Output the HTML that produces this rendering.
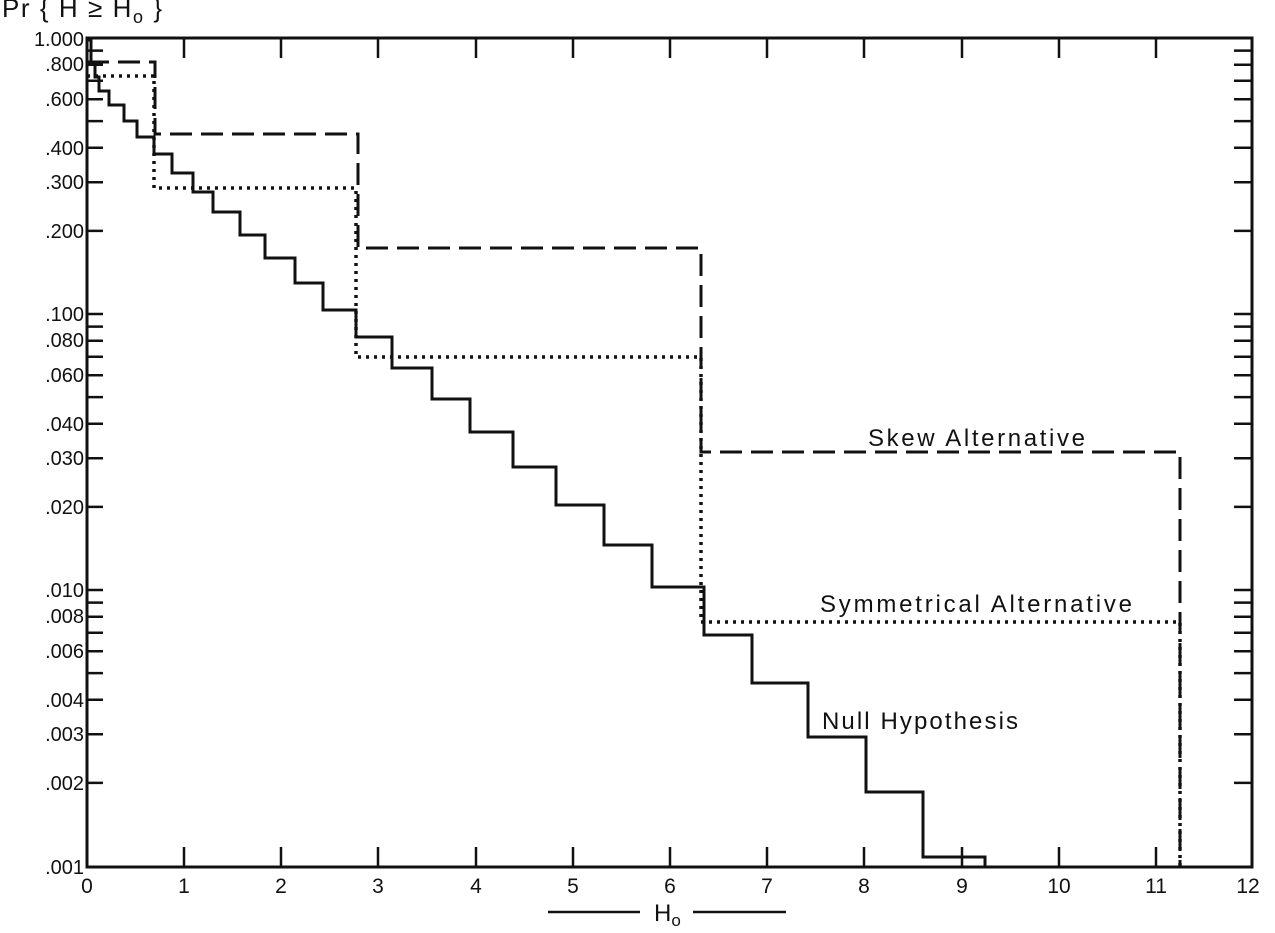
<!DOCTYPE html>
<html><head><meta charset="utf-8"><style>
html,body{margin:0;padding:0;background:#fff}
svg{display:block}
text{font-family:"Liberation Sans",sans-serif;fill:#111}
</style></head><body>
<svg width="1275" height="933" viewBox="0 0 1275 933" xmlns="http://www.w3.org/2000/svg">
<g stroke="#111" stroke-width="3" fill="none">
<rect x="87" y="38" width="1165" height="829"/>
</g>
<g stroke="#111" stroke-width="2.5">
<path d="M184 38v20M281 38v20M378 38v20M476 38v20M573 38v20M670 38v20M767 38v20M864 38v20M962 38v20M1059 38v20M1156 38v20
M184 867v-20M281 867v-20M378 867v-20M476 867v-20M573 867v-20M670 867v-20M767 867v-20M864 867v-20M962 867v-20M1059 867v-20M1156 867v-20"/>
<path d="M87 230.9h16M87 182.3h16M87 147.8h16M87 121.1h16M87 99.2h16M87 80.8h16M87 64.7h16M87 50.6h16M87 314h16
M87 506.9h16M87 458.3h16M87 423.8h16M87 397.1h16M87 375.2h16M87 356.8h16M87 340.7h16M87 326.6h16M87 590h16
M87 782.9h16M87 734.3h16M87 699.8h16M87 673.1h16M87 651.2h16M87 632.8h16M87 616.7h16M87 602.6h16"/>
<path d="M1252 230.9h-18M1252 182.3h-18M1252 147.8h-18M1252 121.1h-18M1252 99.2h-18M1252 80.8h-18M1252 64.7h-18M1252 50.6h-18M1252 314h-18
M1252 506.9h-18M1252 458.3h-18M1252 423.8h-18M1252 397.1h-18M1252 375.2h-18M1252 356.8h-18M1252 340.7h-18M1252 326.6h-18M1252 590h-18
M1252 782.9h-18M1252 734.3h-18M1252 699.8h-18M1252 673.1h-18M1252 651.2h-18M1252 632.8h-18M1252 616.7h-18M1252 602.6h-18"/>
</g>
<path fill="none" stroke="#111" stroke-width="3" d="M87 40H91V62H95V77H99V91H109V105H124V121H137V137H154V154H172V173H193V192H213V212H240V235H265V258H295V283H323V310H356V337H392V368H432V399H470V432H513V467H556V505H604V545H652V587H704V635H752V683H808V737H866V792H923V857H985V867"/>
<path fill="none" stroke="#111" stroke-width="3" stroke-dasharray="22,9" d="M87 62H155V134H358V248H701V452H1180V867"/>
<path fill="none" stroke="#111" stroke-width="3.5" stroke-dasharray="3,5" d="M87 76H154V188H356V357H701V622H1180V867"/>
<g font-size="20" text-anchor="end">
<text x="84" y="46">1.000</text>
<text x="84" y="71">.800</text>
<text x="84" y="106">.600</text>
<text x="84" y="155">.400</text>
<text x="84" y="189">.300</text>
<text x="84" y="238">.200</text>
<text x="84" y="321">.100</text>
<text x="84" y="347">.080</text>
<text x="84" y="382">.060</text>
<text x="84" y="431">.040</text>
<text x="84" y="465">.030</text>
<text x="84" y="514">.020</text>
<text x="84" y="597">.010</text>
<text x="84" y="623">.008</text>
<text x="84" y="658">.006</text>
<text x="84" y="707">.004</text>
<text x="84" y="741">.003</text>
<text x="84" y="790">.002</text>
<text x="84" y="874">.001</text>
</g>
<g font-size="21" text-anchor="middle">
<text x="87" y="893">0</text><text x="184" y="893">1</text><text x="281" y="893">2</text><text x="378" y="893">3</text>
<text x="476" y="893">4</text><text x="573" y="893">5</text><text x="670" y="893">6</text><text x="767" y="893">7</text>
<text x="864" y="893">8</text><text x="962" y="893">9</text><text x="1059" y="893">10</text><text x="1156" y="893">11</text><text x="1248" y="893">12</text>
</g>
<text x="868" y="446" font-size="24" textLength="217" lengthAdjust="spacing">Skew Alternative</text>
<text x="820" y="612" font-size="24" textLength="312" lengthAdjust="spacing">Symmetrical Alternative</text>
<text x="822" y="729" font-size="24" textLength="196" lengthAdjust="spacing">Null Hypothesis</text>
<text x="2" y="17" font-size="26" textLength="160" lengthAdjust="spacing">Pr { H ≥ H<tspan font-size="18" dy="6">o</tspan><tspan dy="-6"> }</tspan></text>
<path stroke="#111" stroke-width="2.5" d="M548 912H640M693 912H786"/>
<text x="654" y="921" font-size="24">H<tspan font-size="17" dy="5">o</tspan></text>
</svg>
</body></html>
